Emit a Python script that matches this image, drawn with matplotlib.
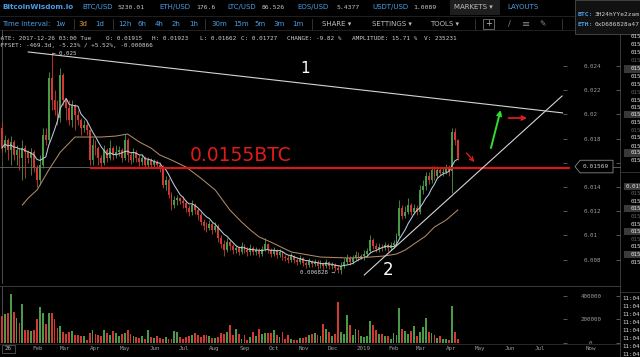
import matplotlib
matplotlib.use('Agg')
import matplotlib.pyplot as plt
import matplotlib.dates as mdates
import matplotlib.transforms as mtransforms
from matplotlib.lines import Line2D
from matplotlib.patches import Rectangle, Polygon
import numpy as np
import pandas as pd

# ---------------- data (prices in 1e-5 BTC, volume in thousands) ----------------
start_date = '2017-12-26'
open_first = 1888
close_e5 = [1722, 1788, 1706, 1772, 1665, 1706, 1640, 1722, 1689, 1640,
            1689, 1557, 1458, 1582, 1830, 1788, 2301, 2119, 2036, 1970,
            2326, 2119, 2053, 1954, 2078, 1995, 1954, 1888, 1912, 1871,
            1623, 1747, 1722, 1640, 1598, 1706, 1640, 1722, 1665, 1689,
            1706, 1640, 1788, 1665, 1623, 1689, 1640, 1607, 1640, 1582,
            1623, 1582, 1607, 1582, 1557, 1417, 1458, 1334, 1251, 1293,
            1309, 1285,
            1268, 1227, 1193, 1251, 1210, 1169, 1111, 1078, 1061,
            1094, 1045, 1078, 979, 929, 879, 946, 912, 879, 896,
            863, 912, 879, 863, 896, 863, 879, 846, 888, 929,
            879, 846, 879, 838, 863, 822, 810,
            797, 830, 797, 780,
            813, 772, 755, 789, 764, 780, 747, 772, 747, 780,
            747, 755, 731, 714, 747, 780, 813, 780, 813, 838,
            813, 830,
            846, 871, 962, 912, 888, 904, 896, 921, 896,
            921, 937, 995, 1227, 1160, 1193, 1251, 1193, 1227, 1193,
            1375, 1408, 1491, 1458, 1541, 1491, 1541, 1515,
            1524, 1557, 1532, 1855, 1788, 1640]
high_e5 = [1937, 1830, 1805, 1822, 1788, 1747, 1722, 1788, 1747, 1706,
           1722, 1706, 1582, 1665, 1888, 1888, 2350, 2507, 2202, 2119,
           2383, 2340, 2136, 2119, 2119, 2090, 2036, 1970, 1954, 1937,
           1880, 1805, 1788, 1739, 1665, 1747, 1722, 1788, 1739, 1747,
           1739, 1722, 1838, 1805, 1689, 1722, 1706, 1665, 1673, 1656,
           1648, 1640, 1632, 1623, 1607, 1582, 1491, 1474, 1359, 1326,
           1334, 1318,
           1326, 1293, 1251, 1293, 1268, 1227, 1193, 1136, 1111,
           1127, 1111, 1111, 1094, 1003, 962, 979, 962, 929, 921,
           912, 946, 929, 904, 929, 912, 904, 896, 912, 979,
           937, 896, 904, 888, 888, 871, 838,
           838, 855, 838, 813,
           838, 822, 789, 813, 797, 805, 797, 797, 780, 805,
           789, 780, 772, 755, 780, 813, 846, 830, 838, 871,
           863, 846,
           879, 896, 1003, 979, 937, 937, 929, 946, 937,
           946, 962, 1020, 1293, 1251, 1243, 1309, 1268, 1260, 1251,
           1417, 1458, 1524, 1524, 1574, 1574, 1574, 1557,
           1565, 1590, 1582, 1888, 1888, 1800]
low_e5 = [1689, 1689, 1623, 1582, 1623, 1582, 1541, 1458, 1474, 1598,
          1499, 1524, 1400, 1417, 1557, 1747, 1772, 2036, 1995, 1912,
          1937, 2078, 1954, 1912, 1896, 1871, 1912, 1830, 1855, 1830,
          1582, 1582, 1665, 1582, 1565, 1582, 1607, 1623, 1623, 1640,
          1656, 1607, 1623, 1607, 1590, 1607, 1607, 1574, 1582, 1557,
          1565, 1557, 1565, 1557, 1524, 1392, 1375, 1309, 1210, 1227,
          1251, 1260,
          1227, 1193, 1160, 1169, 1177, 1127, 1086, 1045, 1028,
          1045, 1012, 1028, 946, 896, 830, 863, 879, 846, 855,
          838, 846, 855, 830, 838, 838, 838, 822, 830, 871,
          855, 822, 830, 813, 822, 797, 789,
          772, 780, 772, 755,
          764, 747, 731, 739, 739, 747, 722, 731, 722, 731,
          722, 722, 706, 689, 683, 731, 764, 755, 764, 797,
          789, 805,
          797, 822, 855, 888, 863, 863, 871, 879, 871,
          879, 896, 912, 979, 1136, 1144, 1177, 1169, 1177, 1169,
          1177, 1342, 1375, 1425, 1433, 1458, 1474, 1499,
          1491, 1508, 1491, 1350, 1747, 1623]
volume_k = [230, 247, 255, 417, 264, 213, 170, 332, 111, 111, 102, 111, 204,
            306, 255, 162, 255, 255, 204, 128, 145, 94, 77, 94, 102, 68,
            68, 60, 60, 26, 85, 111, 77, 68, 60, 111,
            85, 68, 102, 85, 60, 77, 85, 111, 77, 60,
            51, 43, 60, 34, 111, 51, 43, 60, 43, 34,
            51, 34, 34, 102, 94, 51, 34, 51, 60, 68, 85,
            68, 51, 68, 68, 60, 43, 43, 51, 85, 77,
            94, 153, 68, 119, 77, 34, 68, 26, 51, 94,
            60, 119, 77, 85, 85, 85, 111, 68, 51, 94, 34,
            68, 34, 26, 26, 43, 43, 51, 68, 77, 85, 68, 60,
            162, 119, 94, 60, 77, 349, 94, 77, 238, 153, 68, 119, 111, 60,
            51, 60, 187, 153, 111, 77, 77, 60, 60, 34, 85, 68, 298, 119, 102,
            77, 102, 145, 60, 94, 136, 213, 94, 85, 68, 43, 60, 34, 34, 26,
            315, 94, 34]
slow_ma_idx = [7, 9, 12, 16, 20, 25, 28, 34, 39, 43, 47, 51, 54, 58, 63, 68,
               73, 78, 82, 85, 88, 92, 99, 109, 119, 126, 131, 135, 138, 141,
               145, 148, 152, 156]
slow_ma_e5 = [1251, 1309, 1375, 1540, 1689, 1813, 1813, 1813, 1821, 1838,
              1772, 1722, 1665, 1623, 1565, 1474, 1375, 1210, 1111, 1045,
              987, 945, 863, 821, 813, 821, 830, 846, 879, 929, 995, 1069,
              1127, 1210]
fast_ma_window = 7

price_ticks = [0.008, 0.010, 0.012, 0.014, 0.016, 0.018, 0.020, 0.022, 0.024]
price_tick_labels = ['0.008', '0.01', '0.012', '0.014', '', '0.018', '0.02', '0.022', '0.024']
volume_ticks = [0, 200000, 400000]
volume_tick_labels = ['0', '200000', '400000']
month_ticks = pd.date_range('2018-02-01', '2019-07-01', freq='MS')
month_labels = ['Feb', 'Mar', 'Apr', 'May', 'Jun', 'Jul', 'Aug', 'Sep', 'Oct',
                'Nov', 'Dec', '2019', 'Feb', 'Mar', 'Apr', 'May', 'Jun', 'Jul']

last_price = 0.01569
support_level = 0.01557
support_start = '2018-03-26'
support_end = '2019-08-01'
support_label = '0.0155BTC'
trend1_dates = ['2018-01-22', '2019-07-25']
trend1_prices = [0.02516, 0.02012]
trend2_dates = ['2019-01-02', '2019-07-24']
trend2_prices = [0.00673, 0.02152]
arrow_green = [('2019-05-12', 0.01722), ('2019-05-22', 0.02036)]
arrow_red_right = [('2019-05-30', 0.01970), ('2019-06-18', 0.01970)]
arrow_red_down = [('2019-04-17', 0.01681), ('2019-04-25', 0.01607)]
label_high = ('2018-02-15', 0.02507, '\u2190 0.025')
label_low = ('2018-10-28', 0.00690, '0.006828 \u2192')
label_1 = ('2018-11-02', 0.02383, '1')
label_2 = ('2019-01-26', 0.00714, '2')

# ---------------- derived ----------------
W, H = 640, 357
close = np.array(close_e5) * 1e-5
high = np.array(high_e5) * 1e-5
low = np.array(low_e5) * 1e-5
opn = np.r_[open_first * 1e-5, close[:-1]]
vol = np.array(volume_k) * 1000.0
dates = pd.date_range(start_date, periods=len(close), freq='3D')
xd = mdates.date2num(dates)
up = close >= opn
GREEN, RED = '#4a9a48', '#d23a30'
colors = np.where(up, GREEN, RED)
fast_ma = pd.Series(close).rolling(fast_ma_window, min_periods=1).mean().values
slow_x = xd[slow_ma_idx]
slow_y = np.array(slow_ma_e5) * 1e-5

def d2n(s):
    return mdates.date2num(pd.Timestamp(s))

xmin, xmax = d2n('2017-12-24'), d2n('2019-07-25')
pmin, pmax = 0.005983, 0.026975

fig = plt.figure(figsize=(6.4, 3.57), dpi=100, facecolor='black')
MONO = 'DejaVu Sans Mono'
SANS = 'DejaVu Sans'

def ptext(x, y, s, size=5, color='#c8c8c8', family=SANS, weight='normal', ha='left', va='center', z=5):
    return fig.text(x / W, 1 - y / H, s, fontsize=size, color=color, family=family,
                    fontweight=weight, ha=ha, va=va, zorder=z)

def prect(x, y, w, h, fc, ec='none', lw=0.6, z=0):
    fig.add_artist(Rectangle((x / W, 1 - (y + h) / H), w / W, h / H, transform=fig.transFigure,
                             facecolor=fc, edgecolor=ec, linewidth=lw, zorder=z))

def pline(x0, y0, x1, y1, color='#333333', lw=0.6, z=1):
    fig.add_artist(Line2D([x0 / W, x1 / W], [1 - y0 / H, 1 - y1 / H], transform=fig.transFigure,
                          color=color, lw=lw, zorder=z))

# ---------------- axes ----------------
ax_p = fig.add_axes([0, (H - 284) / H, 563 / W, 254 / H])
ax_v = fig.add_axes([0, (H - 343) / H, 563 / W, 57 / H])
ax_ps = fig.add_axes([563 / W, (H - 284) / H, 57 / W, 254 / H])
ax_vs = fig.add_axes([563 / W, (H - 343) / H, 57 / W, 57 / H])
for a in (ax_p, ax_v, ax_ps, ax_vs):
    a.set_facecolor('none')
    for s in a.spines.values():
        s.set_visible(False)
ax_p.set_zorder(2)
ax_ps.set_zorder(3)

# candles
ax_p.vlines(xd, low, high, colors=colors, lw=0.6, zorder=2)
body = np.where(np.abs(close - opn) < 2e-5, 2e-5, close - opn)
ax_p.bar(xd, body, bottom=opn, width=1.9, color=colors, linewidth=0, zorder=3)
ax_p.plot(xd, fast_ma, color='#b4cce4', lw=0.75, zorder=4)
ax_p.plot(slow_x, slow_y, color='#b08a68', lw=0.75, zorder=4)

# crosshair
ax_p.axhline(last_price, color='#6a6a6a', lw=0.6, zorder=1)
ax_p.axvline(xd[0], color='#5a5a5a', lw=0.6, zorder=1)
ax_v.axvline(xd[0], color='#5a5a5a', lw=0.6, zorder=1)

# support line & label
ax_p.plot([d2n(support_start), d2n(support_end)], [support_level] * 2, color='#e01414', lw=1.5,
          zorder=5, clip_on=False, solid_capstyle='butt')
ax_p.text(d2n('2018-07-07'), support_level + 0.00025, support_label, color='#e01a1a', fontsize=13.5,
          family=SANS, va='bottom', ha='left', zorder=6)

# trend lines
ax_p.plot(mdates.date2num(pd.to_datetime(trend1_dates)), trend1_prices, color='#d4d4d4', lw=0.8, zorder=5)
ax_p.plot(mdates.date2num(pd.to_datetime(trend2_dates)), trend2_prices, color='#d4d4d4', lw=0.8, zorder=5)
ax_p.text(d2n(label_1[0]), label_1[1], label_1[2], color='white', fontsize=11, family=SANS,
          ha='center', va='center', zorder=6)
ax_p.text(d2n(label_2[0]), label_2[1], label_2[2], color='white', fontsize=12, family=SANS,
          ha='center', va='center', zorder=6)

# arrows
for pts, col, lw in ((arrow_green, '#2ee02e', 1.4), (arrow_red_right, '#e82020', 1.2),
                     (arrow_red_down, '#e82020', 0.9)):
    (d0, p0), (d1, p1) = pts
    ax_p.annotate('', xy=(d2n(d1), p1), xytext=(d2n(d0), p0),
                  arrowprops=dict(arrowstyle='->', color=col, lw=lw, mutation_scale=7,
                                  shrinkA=0, shrinkB=0), zorder=6)

# high / low labels
ax_p.text(d2n(label_high[0]), label_high[1], label_high[2], color='#cfcfcf', fontsize=4.2,
          family=MONO, ha='left', va='center', zorder=6)
ax_p.text(d2n(label_low[0]), label_low[1], label_low[2], color='#cfcfcf', fontsize=4.2,
          family=MONO, ha='left', va='center', zorder=6)

ax_p.set_xlim(xmin, xmax)
ax_p.set_ylim(pmin, pmax)
ax_p.set_xticks([])
ax_p.yaxis.tick_right()
ax_p.set_yticks(price_ticks)
ax_p.set_yticklabels(price_tick_labels, fontsize=4.2, family=MONO, color='#9c9c9c')
ax_p.tick_params(axis='y', length=3, color='#666666', pad=12, width=0.6)

# volume
ax_v.bar(xd, vol, width=1.9, color=colors, linewidth=0, zorder=2)
ax_v.set_xlim(xmin, xmax)
ax_v.set_ylim(0, 485000)
ax_v.yaxis.tick_right()
ax_v.set_yticks(volume_ticks)
ax_v.set_yticklabels(volume_tick_labels, fontsize=4.2, family=MONO, color='#9c9c9c')
for lab in ax_v.get_yticklabels():
    lab.set_ha('center')
ax_v.tick_params(axis='y', length=3, color='#666666', pad=17, width=0.6)
ax_v.set_xticks(mdates.date2num(month_ticks))
ax_v.set_xticklabels(month_labels, fontsize=4.2, family=MONO, color='#9c9c9c')
ax_v.tick_params(axis='x', length=0, pad=2.5)

# scale-side inward ticks
for a, lim, ticks in ((ax_ps, (pmin, pmax), price_ticks), (ax_vs, (0, 485000), volume_ticks)):
    a.set_ylim(*lim)
    a.set_xlim(0, 1)
    a.set_xticks([])
    a.yaxis.tick_right()
    a.set_yticks(ticks)
    a.set_yticklabels([])
    a.tick_params(axis='y', direction='in', length=3, color='#666666', width=0.6)

# last price box
bt = mtransforms.blended_transform_factory(ax_ps.transAxes, ax_ps.transData)
hh = 0.00052
box = Polygon([(0.21, last_price), (0.30, last_price + hh), (0.877, last_price + hh),
               (0.877, last_price - hh), (0.30, last_price - hh)], closed=True, transform=bt,
              facecolor='black', edgecolor='#8a8a8a', lw=0.6, zorder=5, clip_on=False)
ax_ps.add_patch(box)
ax_ps.plot([0.877, 1.0], [last_price] * 2, transform=bt, color='#6a6a6a', lw=0.6, clip_on=False)
ax_ps.text(0.58, last_price, '0.01569', transform=bt, fontsize=4.4, family=MONO, color='#c8c8c8',
           ha='center', va='center', zorder=6)

# ---------------- frame lines ----------------
pline(0, 285.5, 620, 285.5, '#3a3a3a', 0.7)
pline(0, 343.5, 620, 343.5, '#2a2a2a', 0.7)
pline(620, 30, 620, 357, '#3a3a3a', 0.7)
pline(0, 30, 640, 30, '#262626', 0.6)
pline(0, 15.5, 575, 15.5, '#262626', 0.6)

# x-axis extras
ptext(8, 349, '26', size=4.2, family=MONO, color='#bdbdbd', ha='center')
prect(2, 345, 13, 8, 'none', ec='#666666', lw=0.5, z=4)
ptext(591, 349, 'Now', size=4.2, family=MONO, color='#9c9c9c', ha='center')

# ---------------- header ----------------
BLUE = '#4a9ee6'
GREY = '#c4c4c4'
ptext(2, 7, 'BitcoinWisdom.io', size=5.2, color=BLUE, weight='bold')
row1 = [('BTC/USD', 82, '5230.01', 118), ('ETH/USD', 159, '176.6', 196), ('LTC/USD', 227, '86.526', 262),
        ('EOS/USD', 297, '5.4377', 337), ('USDT/USD', 372, '1.0089', 413)]
for lab, lx, val, vx in row1:
    ptext(lx, 7, lab, size=5, color=BLUE)
    ptext(vx, 7.5, val, size=4.6, color=GREY, family=MONO)
prect(450, 0, 50, 15, '#1e1e1e')
ptext(454, 7, 'MARKETS \u25be', size=5, color='#bdbdbd')
ptext(507, 7, 'LAYOUTS', size=5, color=BLUE)

ptext(2, 24, 'Time Interval:', size=5, color=BLUE)
intervals = [('1w', 55), ('3d', 78), ('1d', 95), ('12h', 118), ('6h', 138), ('4h', 155), ('2h', 172),
             ('1h', 189), ('30m', 211), ('15m', 233), ('5m', 254), ('3m', 273), ('1m', 292)]
for lab, x in intervals:
    ptext(x, 24, lab, size=5, color='#e8a13a' if lab == '3d' else BLUE)
for x in (74, 113, 205, 312, 475, 562):
    pline(x, 19, x, 29, '#3a3a3a', 0.6)
ptext(322, 24, 'SHARE \u25be', size=5, color='#bdbdbd')
ptext(372, 24, 'SETTINGS \u25be', size=5, color='#bdbdbd')
ptext(430, 24, 'TOOLS \u25be', size=5, color='#bdbdbd')
prect(483, 19, 11, 10, 'none', ec='#777777', lw=0.6, z=4)
ptext(488.5, 24, '+', size=6, color='#bbbbbb', ha='center')
ptext(509, 24, '\u2215', size=6, color='#888888', ha='center')
ptext(526, 24, '\u2261', size=7, color='#888888', ha='center')
ptext(543, 24, '\u270e', size=5.5, color='#888888', ha='center')

# wallet popup
prect(575, 0, 70, 34, '#111111', ec='#4a4a4a', lw=0.6, z=3)
ptext(578, 15, 'BTC:', size=4.6, color=BLUE, family=MONO, weight='bold', z=6)
ptext(595, 15, '3H24hYYe2zam', size=4.4, color='#d0d0d0', family=MONO, z=6)
ptext(578, 25, 'ETH:', size=4.6, color=BLUE, family=MONO, weight='bold', z=6)
ptext(595, 25, '0xD686828a47', size=4.4, color='#d0d0d0', family=MONO, z=6)

# info lines
info = [('DATE: 2017-12-26 03:00 Tue', -3), ('O: 0.01915', 106), ('H: 0.01923', 152),
        ('L: 0.01662', 200), ('C: 0.01727', 241), ('CHANGE: -9.82 %', 287),
        ('AMPLITUDE: 15.71 %', 352), ('V: 235231', 424)]
for s, x in info:
    ptext(x, 38, s, size=4.3, color='#cfcfcf', family=MONO, z=6)
ptext(-3, 45, 'OFFSET: -469.3d, -5.23% / +5.52%, -0.000866', size=4.3, color='#cfcfcf', family=MONO, z=6)

# right order-book column
ob_top = [37, 45, 53, 61, 69, 77, 84, 92, 100, 107, 115, 123, 130, 138, 146, 153, 161]
for k, y in enumerate(ob_top):
    if k in (4, 10, 15):
        prect(624, y - 3.5, 16, 7, '#383838', z=2)
    ptext(631, y, '01569', size=4.2, family=MONO, color='#5e5e5e' if k in (3, 7, 12) else '#dcdcdc')
ob_mid = [186, 193.6, 201.2, 208.8, 216.4, 224, 231.6, 239.2, 246.8, 254.4, 262]
for k, y in enumerate(ob_mid):
    if k in (0, 3, 6, 9):
        prect(624, y - 3.5, 16, 7, '#3a3a3a', z=2)
    ptext(626 if k == 0 else 631, y, '0.0156' if k == 0 else '01568', size=4.2, family=MONO,
          color='#5e5e5e' if k in (1, 4, 7) else '#dcdcdc')
pline(620, 172, 640, 172, '#3a3a3a', 0.6)
pline(620, 292, 640, 292, '#3a3a3a', 0.6)
for y in (299, 307, 315, 323, 331, 339, 347, 355):
    ptext(622, y, '11:04', size=4.2, family=MONO, color='#dcdcdc')

fig.savefig('out.png', dpi=100, facecolor='black')
